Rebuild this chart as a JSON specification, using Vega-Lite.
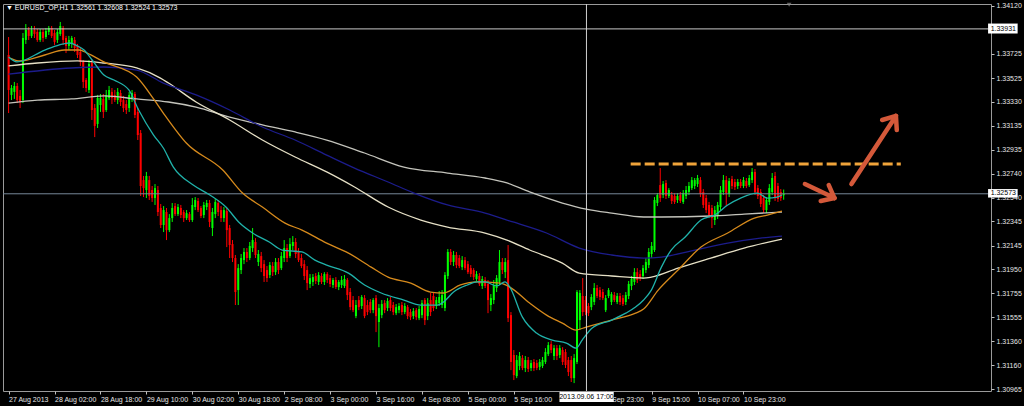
{
"$schema":"https://vega.github.io/schema/vega-lite/v6.json",
"width":988,"height":387,
"autosize":{"type":"none"},
"padding":{"left":3,"top":4,"right":33,"bottom":15},
"background":"#000000",
"config":{"view":{"stroke":"#9a9a9a","strokeWidth":1,"fill":"#000000"},"font":"Liberation Sans","axis":{"labelOverlap":false,"labelFlush":false,"labelBound":false,"labelSeparation":0,"title":null}},
"title":{"text":"▼ EURUSD_OP,H1  1.32561 1.32608 1.32524 1.32573","anchor":"start","frame":"group","color":"#ffffff","fontSize":7,"font":"Liberation Sans","fontWeight":"normal","orient":"top","baseline":"top","offset":-9,"dx":3},
"datasets":{
"bars":[
{"i":0,"o":1.33716,"h":1.33864,"l":1.33238,"c":1.33428},
{"i":1,"o":1.33387,"h":1.33469,"l":1.33345,"c":1.33444},
{"i":2,"o":1.33412,"h":1.33494,"l":1.33354,"c":1.33461},
{"i":3,"o":1.33461,"h":1.33485,"l":1.3332,"c":1.33345},
{"i":4,"o":1.33379,"h":1.33428,"l":1.33279,"c":1.33329},
{"i":5,"o":1.33345,"h":1.33897,"l":1.3332,"c":1.33856},
{"i":6,"o":1.3384,"h":1.33971,"l":1.33807,"c":1.33922},
{"i":7,"o":1.33922,"h":1.33946,"l":1.3384,"c":1.33873},
{"i":8,"o":1.33873,"h":1.33955,"l":1.33856,"c":1.33922},
{"i":9,"o":1.33922,"h":1.33955,"l":1.33856,"c":1.33889},
{"i":10,"o":1.33906,"h":1.3393,"l":1.33824,"c":1.3384},
{"i":11,"o":1.3384,"h":1.3393,"l":1.33824,"c":1.33906},
{"i":12,"o":1.33906,"h":1.3393,"l":1.33824,"c":1.33856},
{"i":13,"o":1.33864,"h":1.33938,"l":1.33848,"c":1.33914},
{"i":14,"o":1.33906,"h":1.33955,"l":1.33881,"c":1.33938},
{"i":15,"o":1.33938,"h":1.33955,"l":1.33856,"c":1.33873},
{"i":16,"o":1.33897,"h":1.33922,"l":1.33799,"c":1.33824},
{"i":17,"o":1.3384,"h":1.3393,"l":1.33815,"c":1.33906},
{"i":18,"o":1.33889,"h":1.33988,"l":1.33873,"c":1.33955},
{"i":19,"o":1.33938,"h":1.33955,"l":1.33799,"c":1.3384},
{"i":20,"o":1.33856,"h":1.33873,"l":1.33732,"c":1.33791},
{"i":21,"o":1.33791,"h":1.33873,"l":1.33757,"c":1.3384},
{"i":22,"o":1.33807,"h":1.33873,"l":1.33774,"c":1.33856},
{"i":23,"o":1.3384,"h":1.33864,"l":1.33741,"c":1.33774},
{"i":24,"o":1.33791,"h":1.33807,"l":1.33691,"c":1.33716},
{"i":25,"o":1.33741,"h":1.33774,"l":1.33626,"c":1.33659},
{"i":26,"o":1.33659,"h":1.33675,"l":1.33444,"c":1.33494},
{"i":27,"o":1.3351,"h":1.33526,"l":1.33412,"c":1.33444},
{"i":28,"o":1.33428,"h":1.33675,"l":1.33403,"c":1.33642},
{"i":29,"o":1.3365,"h":1.33675,"l":1.33181,"c":1.33263},
{"i":30,"o":1.33279,"h":1.33312,"l":1.3304,"c":1.33132},
{"i":31,"o":1.33148,"h":1.33387,"l":1.33115,"c":1.33362},
{"i":32,"o":1.33304,"h":1.33395,"l":1.33247,"c":1.33362},
{"i":33,"o":1.33354,"h":1.33395,"l":1.33197,"c":1.33247},
{"i":34,"o":1.33263,"h":1.33428,"l":1.33247,"c":1.33387},
{"i":35,"o":1.33362,"h":1.33461,"l":1.33345,"c":1.33428},
{"i":36,"o":1.33412,"h":1.33444,"l":1.33312,"c":1.33362},
{"i":37,"o":1.33387,"h":1.33428,"l":1.33329,"c":1.33345},
{"i":38,"o":1.33345,"h":1.33444,"l":1.33312,"c":1.33412},
{"i":39,"o":1.33403,"h":1.33428,"l":1.33296,"c":1.33329},
{"i":40,"o":1.33345,"h":1.33379,"l":1.33247,"c":1.33279},
{"i":41,"o":1.33312,"h":1.33345,"l":1.3323,"c":1.33263},
{"i":42,"o":1.33279,"h":1.33412,"l":1.33247,"c":1.33387},
{"i":43,"o":1.33362,"h":1.33428,"l":1.33329,"c":1.33403},
{"i":44,"o":1.33395,"h":1.33412,"l":1.33197,"c":1.33222},
{"i":45,"o":1.33247,"h":1.33279,"l":1.33016,"c":1.33057},
{"i":46,"o":1.33073,"h":1.33098,"l":1.32555,"c":1.32637},
{"i":47,"o":1.32686,"h":1.3272,"l":1.32546,"c":1.3262},
{"i":48,"o":1.32604,"h":1.32753,"l":1.32538,"c":1.3272},
{"i":49,"o":1.32686,"h":1.3272,"l":1.32522,"c":1.32555},
{"i":50,"o":1.32604,"h":1.32637,"l":1.32506,"c":1.32538},
{"i":51,"o":1.32538,"h":1.32653,"l":1.32481,"c":1.3262},
{"i":52,"o":1.32604,"h":1.32637,"l":1.3239,"c":1.32423},
{"i":53,"o":1.32456,"h":1.32489,"l":1.32291,"c":1.32316},
{"i":54,"o":1.32316,"h":1.32472,"l":1.32258,"c":1.32439},
{"i":55,"o":1.32423,"h":1.32456,"l":1.32192,"c":1.32274},
{"i":56,"o":1.32274,"h":1.32406,"l":1.32258,"c":1.32373},
{"i":57,"o":1.32373,"h":1.32497,"l":1.32341,"c":1.32456},
{"i":58,"o":1.32472,"h":1.32497,"l":1.3239,"c":1.32406},
{"i":59,"o":1.32406,"h":1.32489,"l":1.3239,"c":1.32464},
{"i":60,"o":1.32456,"h":1.32481,"l":1.32373,"c":1.32398},
{"i":61,"o":1.32423,"h":1.32439,"l":1.32341,"c":1.32373},
{"i":62,"o":1.32373,"h":1.32439,"l":1.32357,"c":1.32414},
{"i":63,"o":1.32406,"h":1.32423,"l":1.32341,"c":1.32357},
{"i":64,"o":1.32357,"h":1.32538,"l":1.32341,"c":1.32481},
{"i":65,"o":1.32464,"h":1.32546,"l":1.32439,"c":1.32522},
{"i":66,"o":1.32514,"h":1.32538,"l":1.32423,"c":1.32439},
{"i":67,"o":1.32456,"h":1.32472,"l":1.32373,"c":1.3239},
{"i":68,"o":1.32398,"h":1.32506,"l":1.32373,"c":1.32481},
{"i":69,"o":1.32464,"h":1.32522,"l":1.32439,"c":1.32497},
{"i":70,"o":1.32497,"h":1.32522,"l":1.32299,"c":1.32341},
{"i":71,"o":1.32291,"h":1.32456,"l":1.32225,"c":1.32423},
{"i":72,"o":1.32406,"h":1.3253,"l":1.32373,"c":1.32506},
{"i":73,"o":1.32497,"h":1.32522,"l":1.3239,"c":1.32423},
{"i":74,"o":1.32439,"h":1.32472,"l":1.32341,"c":1.32373},
{"i":75,"o":1.32373,"h":1.32464,"l":1.32341,"c":1.32439},
{"i":76,"o":1.32431,"h":1.32456,"l":1.32134,"c":1.32274},
{"i":77,"o":1.32291,"h":1.32316,"l":1.32044,"c":1.32151},
{"i":78,"o":1.32159,"h":1.32192,"l":1.32011,"c":1.32044},
{"i":79,"o":1.32044,"h":1.32069,"l":1.31657,"c":1.31764},
{"i":80,"o":1.3178,"h":1.31994,"l":1.31657,"c":1.31961},
{"i":81,"o":1.31945,"h":1.32077,"l":1.31912,"c":1.32044},
{"i":82,"o":1.32027,"h":1.32126,"l":1.31994,"c":1.32094},
{"i":83,"o":1.32094,"h":1.32126,"l":1.32011,"c":1.32044},
{"i":84,"o":1.32044,"h":1.32176,"l":1.32027,"c":1.32143},
{"i":85,"o":1.32126,"h":1.32291,"l":1.32094,"c":1.32192},
{"i":86,"o":1.32176,"h":1.32208,"l":1.32044,"c":1.32069},
{"i":87,"o":1.32011,"h":1.3211,"l":1.31978,"c":1.32077},
{"i":88,"o":1.3206,"h":1.32094,"l":1.31928,"c":1.31961},
{"i":89,"o":1.31994,"h":1.32027,"l":1.31847,"c":1.31896},
{"i":90,"o":1.31945,"h":1.31978,"l":1.31847,"c":1.31879},
{"i":91,"o":1.31904,"h":1.32011,"l":1.31879,"c":1.31986},
{"i":92,"o":1.31978,"h":1.32011,"l":1.31896,"c":1.31928},
{"i":93,"o":1.31928,"h":1.32044,"l":1.31904,"c":1.32011},
{"i":94,"o":1.32011,"h":1.32044,"l":1.31912,"c":1.31945},
{"i":95,"o":1.31961,"h":1.32094,"l":1.31945,"c":1.3206},
{"i":96,"o":1.32044,"h":1.32192,"l":1.32011,"c":1.32126},
{"i":97,"o":1.32126,"h":1.32159,"l":1.32011,"c":1.32044},
{"i":98,"o":1.3206,"h":1.32208,"l":1.32044,"c":1.32159},
{"i":99,"o":1.32143,"h":1.32225,"l":1.3211,"c":1.32176},
{"i":100,"o":1.32176,"h":1.32208,"l":1.32044,"c":1.32077},
{"i":101,"o":1.32094,"h":1.32126,"l":1.32011,"c":1.32027},
{"i":102,"o":1.32044,"h":1.32077,"l":1.31961,"c":1.31978},
{"i":103,"o":1.31994,"h":1.32027,"l":1.31863,"c":1.31896},
{"i":104,"o":1.31945,"h":1.31978,"l":1.3178,"c":1.31838},
{"i":105,"o":1.3183,"h":1.31912,"l":1.31797,"c":1.31879},
{"i":106,"o":1.31847,"h":1.31912,"l":1.31814,"c":1.31887},
{"i":107,"o":1.31896,"h":1.3192,"l":1.3183,"c":1.31855},
{"i":108,"o":1.31847,"h":1.31928,"l":1.31822,"c":1.31904},
{"i":109,"o":1.31896,"h":1.3192,"l":1.3183,"c":1.31847},
{"i":110,"o":1.31847,"h":1.31928,"l":1.31822,"c":1.31912},
{"i":111,"o":1.31912,"h":1.31928,"l":1.31838,"c":1.31863},
{"i":112,"o":1.31879,"h":1.31904,"l":1.31805,"c":1.3183},
{"i":113,"o":1.31822,"h":1.31879,"l":1.31797,"c":1.31863},
{"i":114,"o":1.31863,"h":1.31887,"l":1.31789,"c":1.31805},
{"i":115,"o":1.31805,"h":1.31863,"l":1.3178,"c":1.31847},
{"i":116,"o":1.31822,"h":1.31896,"l":1.31797,"c":1.31863},
{"i":117,"o":1.31814,"h":1.31904,"l":1.31797,"c":1.31871},
{"i":118,"o":1.31863,"h":1.31879,"l":1.31698,"c":1.31739},
{"i":119,"o":1.31764,"h":1.31797,"l":1.31615,"c":1.3164},
{"i":120,"o":1.31698,"h":1.31731,"l":1.31599,"c":1.31615},
{"i":121,"o":1.31566,"h":1.31698,"l":1.31549,"c":1.31657},
{"i":122,"o":1.31698,"h":1.31731,"l":1.31615,"c":1.3164},
{"i":123,"o":1.31649,"h":1.31739,"l":1.31624,"c":1.31723},
{"i":124,"o":1.31714,"h":1.31739,"l":1.31549,"c":1.31566},
{"i":125,"o":1.31657,"h":1.31698,"l":1.31574,"c":1.31599},
{"i":126,"o":1.31682,"h":1.31706,"l":1.3159,"c":1.31615},
{"i":127,"o":1.31615,"h":1.31714,"l":1.3159,"c":1.31698},
{"i":128,"o":1.31714,"h":1.31739,"l":1.31434,"c":1.31566},
{"i":129,"o":1.31517,"h":1.31665,"l":1.3131,"c":1.31632},
{"i":130,"o":1.31574,"h":1.31698,"l":1.31549,"c":1.31665},
{"i":131,"o":1.31673,"h":1.31698,"l":1.3159,"c":1.31615},
{"i":132,"o":1.31632,"h":1.31714,"l":1.31607,"c":1.3169},
{"i":133,"o":1.31698,"h":1.31723,"l":1.31607,"c":1.31632},
{"i":134,"o":1.31657,"h":1.31682,"l":1.31574,"c":1.31599},
{"i":135,"o":1.3159,"h":1.31665,"l":1.31574,"c":1.3164},
{"i":136,"o":1.31615,"h":1.31673,"l":1.3159,"c":1.31649},
{"i":137,"o":1.31657,"h":1.31682,"l":1.31574,"c":1.31599},
{"i":138,"o":1.31599,"h":1.31673,"l":1.31582,"c":1.31649},
{"i":139,"o":1.3164,"h":1.31657,"l":1.31541,"c":1.31566},
{"i":140,"o":1.31599,"h":1.31624,"l":1.31533,"c":1.31557},
{"i":141,"o":1.31566,"h":1.31632,"l":1.31541,"c":1.31607},
{"i":142,"o":1.31615,"h":1.31632,"l":1.31533,"c":1.31557},
{"i":143,"o":1.31549,"h":1.31649,"l":1.31533,"c":1.31624},
{"i":144,"o":1.31574,"h":1.31698,"l":1.31549,"c":1.31673},
{"i":145,"o":1.31698,"h":1.31714,"l":1.31492,"c":1.31533},
{"i":146,"o":1.31566,"h":1.31714,"l":1.31533,"c":1.31673},
{"i":147,"o":1.31698,"h":1.31756,"l":1.31566,"c":1.31599},
{"i":148,"o":1.31731,"h":1.31764,"l":1.31607,"c":1.31632},
{"i":149,"o":1.31649,"h":1.31723,"l":1.31624,"c":1.31698},
{"i":150,"o":1.31673,"h":1.31772,"l":1.31649,"c":1.31723},
{"i":151,"o":1.31657,"h":1.3178,"l":1.31632,"c":1.31739},
{"i":152,"o":1.31632,"h":1.31928,"l":1.31607,"c":1.31904},
{"i":153,"o":1.31896,"h":1.32118,"l":1.31871,"c":1.32094},
{"i":154,"o":1.32094,"h":1.32118,"l":1.31986,"c":1.32011},
{"i":155,"o":1.32011,"h":1.32102,"l":1.31978,"c":1.32069},
{"i":156,"o":1.32069,"h":1.32094,"l":1.31961,"c":1.31986},
{"i":157,"o":1.32044,"h":1.32069,"l":1.31961,"c":1.31978},
{"i":158,"o":1.31969,"h":1.3206,"l":1.31945,"c":1.32027},
{"i":159,"o":1.32027,"h":1.32052,"l":1.31945,"c":1.31961},
{"i":160,"o":1.31994,"h":1.32019,"l":1.31912,"c":1.31928},
{"i":161,"o":1.31961,"h":1.31986,"l":1.31887,"c":1.31912},
{"i":162,"o":1.31945,"h":1.31961,"l":1.31863,"c":1.31887},
{"i":163,"o":1.31871,"h":1.31937,"l":1.31855,"c":1.31912},
{"i":164,"o":1.31896,"h":1.3192,"l":1.31814,"c":1.3183},
{"i":165,"o":1.31814,"h":1.31896,"l":1.31789,"c":1.31871},
{"i":166,"o":1.31863,"h":1.31887,"l":1.31797,"c":1.31814},
{"i":167,"o":1.3183,"h":1.31863,"l":1.3159,"c":1.31698},
{"i":168,"o":1.31657,"h":1.31747,"l":1.31607,"c":1.31714},
{"i":169,"o":1.31698,"h":1.31863,"l":1.31665,"c":1.31822},
{"i":170,"o":1.31797,"h":1.31904,"l":1.31764,"c":1.31879},
{"i":171,"o":1.31847,"h":1.3211,"l":1.31822,"c":1.32011},
{"i":172,"o":1.32011,"h":1.32044,"l":1.31912,"c":1.31945},
{"i":173,"o":1.31928,"h":1.32044,"l":1.31879,"c":1.32011},
{"i":174,"o":1.32027,"h":1.32151,"l":1.31517,"c":1.31549},
{"i":175,"o":1.31574,"h":1.31599,"l":1.31121,"c":1.31188},
{"i":176,"o":1.31245,"h":1.31286,"l":1.31039,"c":1.3108},
{"i":177,"o":1.31072,"h":1.31245,"l":1.31055,"c":1.31204},
{"i":178,"o":1.31155,"h":1.3127,"l":1.31121,"c":1.31237},
{"i":179,"o":1.3122,"h":1.31245,"l":1.31121,"c":1.31138},
{"i":180,"o":1.31138,"h":1.31237,"l":1.31105,"c":1.31204},
{"i":181,"o":1.31204,"h":1.31229,"l":1.31105,"c":1.3113},
{"i":182,"o":1.31138,"h":1.31204,"l":1.31113,"c":1.31179},
{"i":183,"o":1.31188,"h":1.31212,"l":1.31113,"c":1.31138},
{"i":184,"o":1.31179,"h":1.31204,"l":1.31121,"c":1.31138},
{"i":185,"o":1.31146,"h":1.31212,"l":1.31121,"c":1.31188},
{"i":186,"o":1.31155,"h":1.31229,"l":1.31138,"c":1.31204},
{"i":187,"o":1.31188,"h":1.31302,"l":1.31171,"c":1.3127},
{"i":188,"o":1.31253,"h":1.31352,"l":1.31237,"c":1.31327},
{"i":189,"o":1.31335,"h":1.3136,"l":1.31261,"c":1.31286},
{"i":190,"o":1.31237,"h":1.31327,"l":1.31204,"c":1.31302},
{"i":191,"o":1.31302,"h":1.31327,"l":1.31204,"c":1.31237},
{"i":192,"o":1.31245,"h":1.31327,"l":1.3122,"c":1.31302},
{"i":193,"o":1.31286,"h":1.3131,"l":1.31163,"c":1.31188},
{"i":194,"o":1.3127,"h":1.31294,"l":1.31138,"c":1.31163},
{"i":195,"o":1.31204,"h":1.31229,"l":1.31072,"c":1.31105},
{"i":196,"o":1.31204,"h":1.31237,"l":1.31023,"c":1.31055},
{"i":197,"o":1.31055,"h":1.31253,"l":1.31014,"c":1.3122},
{"i":198,"o":1.31188,"h":1.3178,"l":1.31171,"c":1.31764},
{"i":199,"o":1.31533,"h":1.3178,"l":1.31451,"c":1.31756},
{"i":200,"o":1.31731,"h":1.31879,"l":1.31566,"c":1.31599},
{"i":201,"o":1.31698,"h":1.31731,"l":1.31574,"c":1.31599},
{"i":202,"o":1.31649,"h":1.31673,"l":1.31566,"c":1.3159},
{"i":203,"o":1.3164,"h":1.31747,"l":1.31615,"c":1.31723},
{"i":204,"o":1.31682,"h":1.31838,"l":1.31657,"c":1.31797},
{"i":205,"o":1.31797,"h":1.31822,"l":1.31714,"c":1.31731},
{"i":206,"o":1.3178,"h":1.31805,"l":1.31698,"c":1.31723},
{"i":207,"o":1.31764,"h":1.31789,"l":1.31698,"c":1.31714},
{"i":208,"o":1.31615,"h":1.31739,"l":1.31599,"c":1.31714},
{"i":209,"o":1.31731,"h":1.31797,"l":1.31714,"c":1.3178},
{"i":210,"o":1.31682,"h":1.31764,"l":1.31657,"c":1.31747},
{"i":211,"o":1.31739,"h":1.31764,"l":1.31682,"c":1.31698},
{"i":212,"o":1.31682,"h":1.31756,"l":1.31665,"c":1.31731},
{"i":213,"o":1.31731,"h":1.31756,"l":1.31657,"c":1.31682},
{"i":214,"o":1.31714,"h":1.31739,"l":1.31649,"c":1.31665},
{"i":215,"o":1.31682,"h":1.31764,"l":1.31657,"c":1.31739},
{"i":216,"o":1.31731,"h":1.31855,"l":1.31706,"c":1.3183},
{"i":217,"o":1.31814,"h":1.31896,"l":1.3178,"c":1.31871},
{"i":218,"o":1.31847,"h":1.31961,"l":1.31822,"c":1.31928},
{"i":219,"o":1.31928,"h":1.31961,"l":1.31838,"c":1.31863},
{"i":220,"o":1.31912,"h":1.31945,"l":1.31855,"c":1.31879},
{"i":221,"o":1.31896,"h":1.31986,"l":1.31871,"c":1.31961},
{"i":222,"o":1.31945,"h":1.32044,"l":1.3192,"c":1.32011},
{"i":223,"o":1.31986,"h":1.32126,"l":1.31961,"c":1.32094},
{"i":224,"o":1.32077,"h":1.32176,"l":1.32044,"c":1.32143},
{"i":225,"o":1.3211,"h":1.32546,"l":1.32094,"c":1.32522},
{"i":226,"o":1.32497,"h":1.32579,"l":1.32472,"c":1.32563},
{"i":227,"o":1.32645,"h":1.32785,"l":1.32506,"c":1.32538},
{"i":228,"o":1.32563,"h":1.32678,"l":1.32538,"c":1.32653},
{"i":229,"o":1.32662,"h":1.32686,"l":1.3253,"c":1.32555},
{"i":230,"o":1.32555,"h":1.3262,"l":1.32538,"c":1.32604},
{"i":231,"o":1.32563,"h":1.32588,"l":1.32489,"c":1.32514},
{"i":232,"o":1.32555,"h":1.32579,"l":1.32489,"c":1.32506},
{"i":233,"o":1.32522,"h":1.32579,"l":1.32497,"c":1.32555},
{"i":234,"o":1.32563,"h":1.32588,"l":1.32497,"c":1.32514},
{"i":235,"o":1.32506,"h":1.32604,"l":1.32489,"c":1.32579},
{"i":236,"o":1.32555,"h":1.32637,"l":1.3253,"c":1.32604},
{"i":237,"o":1.32588,"h":1.3267,"l":1.32563,"c":1.32637},
{"i":238,"o":1.3262,"h":1.32711,"l":1.32604,"c":1.32686},
{"i":239,"o":1.32637,"h":1.32703,"l":1.32612,"c":1.32686},
{"i":240,"o":1.32653,"h":1.32728,"l":1.32629,"c":1.32703},
{"i":241,"o":1.32686,"h":1.32711,"l":1.32546,"c":1.32571},
{"i":242,"o":1.32588,"h":1.32612,"l":1.32456,"c":1.32481},
{"i":243,"o":1.32538,"h":1.32563,"l":1.32414,"c":1.32439},
{"i":244,"o":1.32481,"h":1.32506,"l":1.32373,"c":1.32398},
{"i":245,"o":1.32456,"h":1.32481,"l":1.32291,"c":1.32373},
{"i":246,"o":1.32357,"h":1.32472,"l":1.32316,"c":1.32439},
{"i":247,"o":1.3239,"h":1.32506,"l":1.32365,"c":1.32481},
{"i":248,"o":1.32464,"h":1.32637,"l":1.32439,"c":1.32604},
{"i":249,"o":1.32588,"h":1.32728,"l":1.32563,"c":1.32686},
{"i":250,"o":1.32686,"h":1.3272,"l":1.32472,"c":1.32579},
{"i":251,"o":1.32571,"h":1.32703,"l":1.32546,"c":1.32678},
{"i":252,"o":1.32695,"h":1.3272,"l":1.32612,"c":1.32637},
{"i":253,"o":1.3267,"h":1.32695,"l":1.32604,"c":1.32629},
{"i":254,"o":1.32637,"h":1.32695,"l":1.32612,"c":1.3267},
{"i":255,"o":1.3267,"h":1.32695,"l":1.3262,"c":1.32637},
{"i":256,"o":1.32637,"h":1.32711,"l":1.3262,"c":1.32686},
{"i":257,"o":1.32678,"h":1.32703,"l":1.3262,"c":1.32637},
{"i":258,"o":1.32645,"h":1.32728,"l":1.32629,"c":1.32703},
{"i":259,"o":1.32686,"h":1.32785,"l":1.32662,"c":1.32753},
{"i":260,"o":1.32753,"h":1.32777,"l":1.32563,"c":1.32588},
{"i":261,"o":1.3262,"h":1.32645,"l":1.3253,"c":1.32555},
{"i":262,"o":1.32588,"h":1.32612,"l":1.32464,"c":1.32489},
{"i":263,"o":1.32538,"h":1.32563,"l":1.32414,"c":1.32439},
{"i":264,"o":1.32439,"h":1.32546,"l":1.32414,"c":1.32522},
{"i":265,"o":1.32506,"h":1.32653,"l":1.32481,"c":1.3262},
{"i":266,"o":1.32588,"h":1.32744,"l":1.32563,"c":1.32703},
{"i":267,"o":1.3272,"h":1.32753,"l":1.32514,"c":1.32538},
{"i":268,"o":1.32637,"h":1.32662,"l":1.32506,"c":1.3253},
{"i":269,"o":1.32588,"h":1.32612,"l":1.32514,"c":1.32538},
{"i":270,"o":1.32561,"h":1.32608,"l":1.32524,"c":1.32573}
],
"ma":[
{"s":"gray","i":0,"p":1.3332},{"s":"gray","i":10.1,"p":1.33345},{"s":"gray","i":21.9,"p":1.33354},{"s":"gray","i":33.2,"p":1.33379},{"s":"gray","i":44.6,"p":1.33354},{"s":"gray","i":55.7,"p":1.33329},{"s":"gray","i":65.3,"p":1.33287},{"s":"gray","i":77,"p":1.33205},{"s":"gray","i":88.4,"p":1.3314},{"s":"gray","i":99.8,"p":1.33082},{"s":"gray","i":110.8,"p":1.33016},{"s":"gray","i":124,"p":1.32909},{"s":"gray","i":137.7,"p":1.32793},{"s":"gray","i":152.9,"p":1.32744},{"s":"gray","i":166,"p":1.32703},{"s":"gray","i":173.6,"p":1.32662},{"s":"gray","i":181.5,"p":1.32588},{"s":"gray","i":192.9,"p":1.32497},{"s":"gray","i":201.2,"p":1.32447},{"s":"gray","i":210.1,"p":1.32414},{"s":"gray","i":221.2,"p":1.32382},{"s":"gray","i":227.4,"p":1.32382},{"s":"gray","i":244.6,"p":1.3239},{"s":"gray","i":256.2,"p":1.32406},{"s":"gray","i":269.4,"p":1.32423},
{"s":"beige","i":0,"p":1.33626},{"s":"beige","i":10.1,"p":1.3365},{"s":"beige","i":23.9,"p":1.33667},{"s":"beige","i":33.2,"p":1.3365},{"s":"beige","i":44.6,"p":1.33609},{"s":"beige","i":52.9,"p":1.33526},{"s":"beige","i":55.7,"p":1.33485},{"s":"beige","i":65.3,"p":1.33329},{"s":"beige","i":77,"p":1.33181},{"s":"beige","i":88.4,"p":1.33016},{"s":"beige","i":99.8,"p":1.32876},{"s":"beige","i":110.8,"p":1.32753},{"s":"beige","i":120.5,"p":1.32629},{"s":"beige","i":132.2,"p":1.32464},{"s":"beige","i":143.6,"p":1.32357},{"s":"beige","i":152.9,"p":1.32299},{"s":"beige","i":166,"p":1.3225},{"s":"beige","i":173.6,"p":1.32192},{"s":"beige","i":181.5,"p":1.3211},{"s":"beige","i":192.9,"p":1.32002},{"s":"beige","i":198.8,"p":1.3192},{"s":"beige","i":210.1,"p":1.31896},{"s":"beige","i":221.2,"p":1.31879},{"s":"beige","i":223.9,"p":1.31887},{"s":"beige","i":233.2,"p":1.31961},{"s":"beige","i":244.6,"p":1.32044},{"s":"beige","i":256.2,"p":1.32126},{"s":"beige","i":269.4,"p":1.322},
{"s":"navy","i":0,"p":1.33559},{"s":"navy","i":21.9,"p":1.33609},{"s":"navy","i":33.2,"p":1.33617},{"s":"navy","i":44.6,"p":1.33592},{"s":"navy","i":53.9,"p":1.33485},{"s":"navy","i":65.3,"p":1.33387},{"s":"navy","i":77,"p":1.33263},{"s":"navy","i":88.4,"p":1.33123},{"s":"navy","i":99.8,"p":1.33016},{"s":"navy","i":110.8,"p":1.32892},{"s":"navy","i":120.5,"p":1.32785},{"s":"navy","i":132.2,"p":1.3267},{"s":"navy","i":141.2,"p":1.32579},{"s":"navy","i":152.9,"p":1.32481},{"s":"navy","i":166,"p":1.32414},{"s":"navy","i":175.7,"p":1.32341},{"s":"navy","i":187.4,"p":1.3225},{"s":"navy","i":198.8,"p":1.32126},{"s":"navy","i":210.1,"p":1.32069},{"s":"navy","i":221.2,"p":1.32044},{"s":"navy","i":227.4,"p":1.32052},{"s":"navy","i":239.1,"p":1.3211},{"s":"navy","i":250.5,"p":1.32167},{"s":"navy","i":261.9,"p":1.32208},{"s":"navy","i":269.4,"p":1.32225},
{"s":"orange","i":0.5,"p":1.33691},{"s":"orange","i":3.9,"p":1.33667},{"s":"orange","i":12.6,"p":1.33716},{"s":"orange","i":19.4,"p":1.33757},{"s":"orange","i":24.6,"p":1.33757},{"s":"orange","i":27.4,"p":1.33732},{"s":"orange","i":33.2,"p":1.33659},{"s":"orange","i":44.6,"p":1.33534},{"s":"orange","i":50.5,"p":1.33354},{"s":"orange","i":53.9,"p":1.33238},{"s":"orange","i":61.9,"p":1.32991},{"s":"orange","i":74.6,"p":1.32769},{"s":"orange","i":81.5,"p":1.32579},{"s":"orange","i":88.4,"p":1.32464},{"s":"orange","i":96.3,"p":1.32332},{"s":"orange","i":102.2,"p":1.32274},{"s":"orange","i":110.8,"p":1.32167},{"s":"orange","i":118.4,"p":1.32085},{"s":"orange","i":126.3,"p":1.31969},{"s":"orange","i":132.2,"p":1.31887},{"s":"orange","i":140.1,"p":1.31838},{"s":"orange","i":147,"p":1.31764},{"s":"orange","i":151.5,"p":1.31756},{"s":"orange","i":157.4,"p":1.31822},{"s":"orange","i":163.2,"p":1.31847},{"s":"orange","i":171.2,"p":1.31838},{"s":"orange","i":174.6,"p":1.31805},{"s":"orange","i":181.5,"p":1.31673},{"s":"orange","i":187.4,"p":1.31574},{"s":"orange","i":192.9,"p":1.31508},{"s":"orange","i":197.7,"p":1.31451},{"s":"orange","i":201.2,"p":1.31476},{"s":"orange","i":210.1,"p":1.31533},{"s":"orange","i":218.4,"p":1.3159},{"s":"orange","i":221.2,"p":1.31624},{"s":"orange","i":226.3,"p":1.3178},{"s":"orange","i":233.2,"p":1.31945},{"s":"orange","i":241.2,"p":1.32134},{"s":"orange","i":250.5,"p":1.3225},{"s":"orange","i":259.8,"p":1.32373},{"s":"orange","i":264.3,"p":1.32398},{"s":"orange","i":269.4,"p":1.32431},
{"s":"cyan","i":0,"p":1.33699},{"s":"cyan","i":2.9,"p":1.33659},{"s":"cyan","i":12.6,"p":1.33757},{"s":"cyan","i":17.7,"p":1.33799},{"s":"cyan","i":21.2,"p":1.33815},{"s":"cyan","i":23.9,"p":1.33791},{"s":"cyan","i":26.3,"p":1.33757},{"s":"cyan","i":29.1,"p":1.33675},{"s":"cyan","i":33.2,"p":1.33551},{"s":"cyan","i":36.7,"p":1.3351},{"s":"cyan","i":41.9,"p":1.33428},{"s":"cyan","i":45.3,"p":1.33263},{"s":"cyan","i":50.5,"p":1.33057},{"s":"cyan","i":53.9,"p":1.3295},{"s":"cyan","i":57.4,"p":1.32793},{"s":"cyan","i":64.3,"p":1.32645},{"s":"cyan","i":70.1,"p":1.32563},{"s":"cyan","i":75.7,"p":1.32464},{"s":"cyan","i":80.5,"p":1.32332},{"s":"cyan","i":85,"p":1.3225},{"s":"cyan","i":90.8,"p":1.32176},{"s":"cyan","i":95.3,"p":1.3211},{"s":"cyan","i":102.2,"p":1.32094},{"s":"cyan","i":106.7,"p":1.32027},{"s":"cyan","i":110.8,"p":1.31986},{"s":"cyan","i":118.4,"p":1.3192},{"s":"cyan","i":124,"p":1.31822},{"s":"cyan","i":129.8,"p":1.31756},{"s":"cyan","i":137.7,"p":1.31698},{"s":"cyan","i":143.6,"p":1.31657},{"s":"cyan","i":149.4,"p":1.31657},{"s":"cyan","i":151.5,"p":1.31682},{"s":"cyan","i":155,"p":1.31764},{"s":"cyan","i":159.8,"p":1.31822},{"s":"cyan","i":163.2,"p":1.31847},{"s":"cyan","i":166,"p":1.31847},{"s":"cyan","i":170.1,"p":1.31814},{"s":"cyan","i":172.9,"p":1.31847},{"s":"cyan","i":174.6,"p":1.31805},{"s":"cyan","i":179,"p":1.31557},{"s":"cyan","i":183.9,"p":1.31426},{"s":"cyan","i":189.4,"p":1.31368},{"s":"cyan","i":194.3,"p":1.31344},{"s":"cyan","i":197.7,"p":1.31302},{"s":"cyan","i":199.8,"p":1.31368},{"s":"cyan","i":203.3,"p":1.31467},{"s":"cyan","i":210.1,"p":1.31533},{"s":"cyan","i":215,"p":1.3159},{"s":"cyan","i":218.4,"p":1.3164},{"s":"cyan","i":221.2,"p":1.31698},{"s":"cyan","i":223.9,"p":1.3178},{"s":"cyan","i":227.4,"p":1.31969},{"s":"cyan","i":230.8,"p":1.3211},{"s":"cyan","i":235.7,"p":1.32217},{"s":"cyan","i":241.2,"p":1.32357},{"s":"cyan","i":246,"p":1.32398},{"s":"cyan","i":250.5,"p":1.32481},{"s":"cyan","i":255,"p":1.32538},{"s":"cyan","i":260.8,"p":1.32579},{"s":"cyan","i":264.3,"p":1.32538},{"s":"cyan","i":267.7,"p":1.32546},{"s":"cyan","i":269.4,"p":1.32563}
],
"arrows":[
{"i":277.4,"p":1.32653,"i2":287.7,"p2":1.32538},
{"i":287.7,"p":1.32538,"i2":285.7,"p2":1.32645},
{"i":287.7,"p":1.32538,"i2":282.9,"p2":1.32514},
{"i":293.6,"p":1.32653,"i2":309.1,"p2":1.33214},
{"i":309.1,"p":1.33214,"i2":304.3,"p2":1.33181},
{"i":309.1,"p":1.33214,"i2":309.4,"p2":1.33098}
],
"boxes":[
{"i":191.9,"i2":210.8,"p":1.3094,"p2":1.30858,"t":"2013.09.06 17:00","ti":201.3,"tp":1.30899},
{"i":341.2,"i2":351.5,"p":1.33975,"p2":1.33893,"t":"1.33931","ti":346.5,"tp":1.33933},
{"i":341.2,"i2":351.5,"p":1.32612,"p2":1.32542,"t":"1.32573","ti":346.5,"tp":1.32577}
]
},
"layer":[
{"data":{"name":"bars"},"mark":{"type":"rule","strokeWidth":1},
"encoding":{
"x":{"field":"i","type":"quantitative","scale":{"domain":[-0.21,340.48],"nice":false,"zero":false},
"axis":{"orient":"bottom","values":[0,16,32,48,64,80,96,112,128,144,160,176,192,208,224,240,256],"tickCount":40,
"labelExpr":"['27 Aug 2013','28 Aug 02:00','28 Aug 18:00','29 Aug 10:00','30 Aug 02:00','30 Aug 18:00','2 Sep 08:00','3 Sep 00:00','3 Sep 16:00','4 Sep 08:00','5 Sep 00:00','5 Sep 16:00','','8 Sep 23:00','9 Sep 15:00','10 Sep 07:00','10 Sep 23:00'][round(datum.value/16)]",
"title":null,"grid":false,"domain":false,"tickSize":3,"tickColor":"#c0c0c0","labelColor":"#e6e6e6","labelFont":"Liberation Sans","labelFontSize":7,"labelAlign":"left","labelBaseline":"top","labelPadding":1,"labelDx":2,"labelOverlap":false,"labelFlush":false,"labelBound":false}},
"y":{"field":"l","type":"quantitative","scale":{"domain":[1.30949,1.34136],"nice":false,"zero":false},
"axis":{"orient":"right","values":[1.3412,1.33725,1.33525,1.3333,1.33135,1.32935,1.3274,1.3254,1.32345,1.32145,1.3195,1.31755,1.31555,1.3136,1.3116,1.30965],"tickCount":40,"format":".5f","title":null,"grid":false,"domain":false,"tickSize":3,"tickColor":"#c0c0c0","labelColor":"#e6e6e6","labelFont":"Liberation Sans","labelFontSize":7,"labelPadding":2,"labelOverlap":false,"labelFlush":false,"labelBound":false}},
"y2":{"field":"h"},
"color":{"condition":{"test":"datum.c >= datum.o","value":"#00ff00"},"value":"#ff0000"}}},
{"data":{"name":"bars"},"mark":{"type":"bar","size":2},
"encoding":{
"x":{"field":"i","type":"quantitative","title":null,"scale":{"domain":[-0.21,340.48],"nice":false,"zero":false}},
"y":{"field":"o","type":"quantitative","title":null,"scale":{"domain":[1.30949,1.34136],"nice":false,"zero":false}},
"y2":{"field":"c"},
"color":{"condition":{"test":"datum.c >= datum.o","value":"#00ff00"},"value":"#ff0000"}}},
{"data":{"values":[{"p":1.33931}]},"mark":{"type":"rule","color":"#c8c8c8","strokeWidth":1},
"encoding":{"y":{"field":"p","type":"quantitative","title":null,"scale":{"domain":[1.30949,1.34136],"nice":false,"zero":false}}}},
{"data":{"values":[{"p":1.32573}]},"mark":{"type":"rule","color":"#778899","strokeWidth":1},
"encoding":{"y":{"field":"p","type":"quantitative","title":null,"scale":{"domain":[1.30949,1.34136],"nice":false,"zero":false}}}},
{"data":{"name":"ma"},"mark":{"type":"line","strokeWidth":1.3,"interpolate":"monotone"},
"encoding":{
"x":{"field":"i","type":"quantitative","title":null,"scale":{"domain":[-0.21,340.48],"nice":false,"zero":false}},
"y":{"field":"p","type":"quantitative","title":null,"scale":{"domain":[1.30949,1.34136],"nice":false,"zero":false}},
"color":{"field":"s","type":"nominal","scale":{"domain":["gray","beige","navy","orange","cyan"],"range":["#c4c4bc","#e6e0c6","#1c1c8c","#d68a1c","#20b2aa"]},"legend":null},
"detail":{"field":"s"}}},
{"data":{"values":[{"i":201.3}]},"mark":{"type":"rule","color":"#d0d0d0","strokeWidth":1},
"encoding":{"x":{"field":"i","type":"quantitative","title":null,"scale":{"domain":[-0.21,340.48],"nice":false,"zero":false}}}},
{"data":{"values":[{"i":216.7,"i2":310.8,"p":1.32818}]},"mark":{"type":"rule","color":"#f0a43a","strokeWidth":3,"strokeDash":[10,4]},
"encoding":{
"x":{"field":"i","type":"quantitative","title":null,"scale":{"domain":[-0.21,340.48],"nice":false,"zero":false}},
"x2":{"field":"i2"},
"y":{"field":"p","type":"quantitative","title":null,"scale":{"domain":[1.30949,1.34136],"nice":false,"zero":false}}}},
{"data":{"name":"arrows"},"mark":{"type":"rule","color":"#d4593a","strokeWidth":4.5,"strokeCap":"round"},
"encoding":{
"x":{"field":"i","type":"quantitative","title":null,"scale":{"domain":[-0.21,340.48],"nice":false,"zero":false}},
"x2":{"field":"i2"},
"y":{"field":"p","type":"quantitative","title":null,"scale":{"domain":[1.30949,1.34136],"nice":false,"zero":false}},
"y2":{"field":"p2"}}},
{"data":{"values":[{"i":271.9,"p":1.3413}]},"mark":{"type":"point","shape":"triangle-down","size":22,"filled":true,"color":"#8a8a8a"},
"encoding":{
"x":{"field":"i","type":"quantitative","title":null,"scale":{"domain":[-0.21,340.48],"nice":false,"zero":false}},
"y":{"field":"p","type":"quantitative","title":null,"scale":{"domain":[1.30949,1.34136],"nice":false,"zero":false}}}},
{"data":{"name":"boxes"},"mark":{"type":"rect","color":"#ffffff"},
"encoding":{
"x":{"field":"i","type":"quantitative","title":null,"scale":{"domain":[-0.21,340.48],"nice":false,"zero":false}},
"x2":{"field":"i2"},
"y":{"field":"p","type":"quantitative","title":null,"scale":{"domain":[1.30949,1.34136],"nice":false,"zero":false}},
"y2":{"field":"p2"}}},
{"data":{"name":"boxes"},"mark":{"type":"text","color":"#000000","font":"Liberation Sans","fontSize":7,"align":"center","baseline":"middle"},
"encoding":{
"x":{"field":"ti","type":"quantitative","title":null,"scale":{"domain":[-0.21,340.48],"nice":false,"zero":false}},
"y":{"field":"tp","type":"quantitative","title":null,"scale":{"domain":[1.30949,1.34136],"nice":false,"zero":false}},
"text":{"field":"t"}}}
]
}
